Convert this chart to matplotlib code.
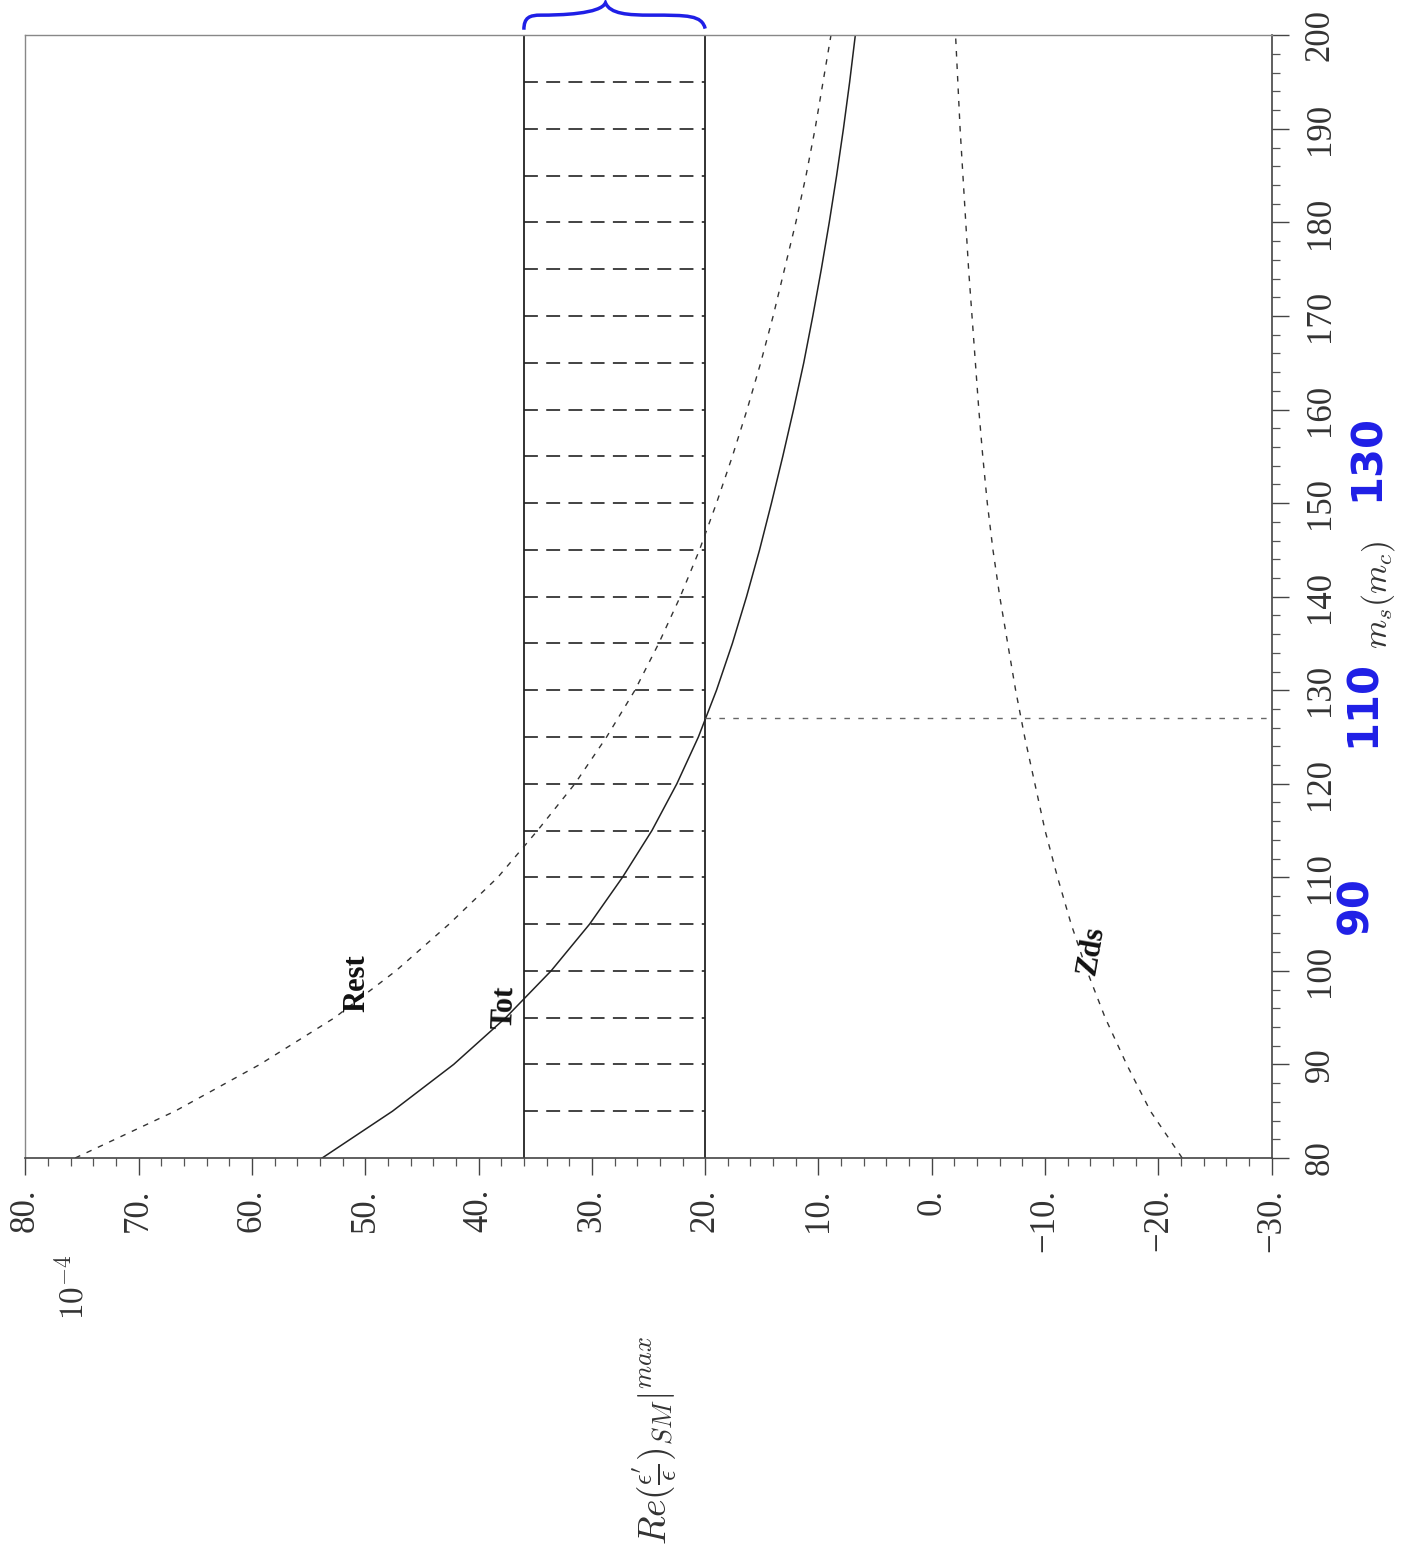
import matplotlib
matplotlib.use("Agg")
import matplotlib.pyplot as plt
from matplotlib.ticker import MultipleLocator, FixedLocator, FixedFormatter
from matplotlib.path import Path
from matplotlib.patches import PathPatch
import matplotlib.transforms as mtransforms

plt.rcParams['font.family'] = ['Liberation Serif', 'DejaVu Serif']
plt.rcParams['mathtext.fontset'] = 'cm'
plt.rcParams['lines.scale_dashes'] = False

# ---------------- data ----------------
ms = [80, 85, 90, 95, 100, 105, 110, 115, 120, 125, 130, 135, 140,
      145, 150, 155, 160, 165, 170, 175, 180, 185, 190, 195, 200]
rest = [75.6, 66.8, 59.3, 52.7, 47.3, 42.6, 38.3, 34.8, 31.5, 28.7, 26.2, 24.1, 22.2,
        20.5, 19.0, 17.6, 16.3, 15.1, 14.0, 13.0, 12.0, 11.1, 10.3, 9.6, 8.9]
tot = [53.8, 47.6, 42.2, 37.6, 33.6, 30.2, 27.3, 24.7, 22.5, 20.6, 19.0, 17.6, 16.35,
       15.2, 14.15, 13.15, 12.2, 11.3, 10.5, 9.75, 9.05, 8.4, 7.8, 7.25, 6.75]
zds = [-22.1, -19.3, -17.2, -15.3, -13.7, -12.3, -11.1, -10.0, -9.1, -8.2, -7.4, -6.7, -6.0,
       -5.4, -4.9, -4.5, -4.15, -3.85, -3.55, -3.25, -3.0, -2.75, -2.5, -2.3, -2.1]

band_lo, band_hi = 20.0, 36.0          # experimental band
band_rows = [85, 90, 95, 100, 105, 110, 115, 120, 125, 130, 135, 140, 145,
             150, 155, 160, 165, 170, 175, 180, 185, 190, 195]
ms_cross = 127.0                       # where Tot meets the band edge

val_ticks = [80, 70, 60, 50, 40, 30, 20, 10, 0, -10, -20, -30]
val_labels = ["80.", "70.", "60.", "50.", "40.", "30.", "20.", "10.", "0.",
              "\u221210.", "\u221220.", "\u221230."]
ms_ticks = [80, 90, 100, 110, 120, 130, 140, 150, 160, 170, 180, 190, 200]
ms_labels = [str(t) for t in ms_ticks]

# ---------------- figure ----------------
fig = plt.figure(figsize=(14.01, 15.64), dpi=100)
ax = fig.add_axes([0.0181, 0.2596, 0.8896, 0.7178])

ax.set_xlim(80, -30)
ax.set_ylim(80, 200)

# band
ax.plot([band_hi, band_hi], [80, 200], color='#222222', lw=1.3)
ax.plot([band_lo, band_lo], [80, 200], color='#222222', lw=1.3)
for r in band_rows:
    ax.plot([band_hi, band_lo], [r, r], color='#222222', lw=1.2,
            dashes=(10, 6))

# curves
ax.plot(rest, ms, color='#333333', lw=1.0, dashes=(4, 5))
ax.plot(tot, ms, color='#222222', lw=1.1)
ax.plot(zds, ms, color='#333333', lw=1.0, dashes=(4, 5))

# crossing line
ax.plot([band_lo, -30], [ms_cross, ms_cross], color='#666666', lw=1.0,
        dashes=(4, 6), clip_on=False)

# curve labels
ax.text(50.7, 98.7, "Rest", rotation=90, fontsize=22, fontweight='bold',
        ha='center', va='center', color='#111111')
ax.text(37.7, 96.1, "Tot", rotation=88, fontsize=22, fontweight='bold',
        ha='center', va='center', color='#111111')
ax.text(-14.1, 102.2, "Zds", rotation=80, fontsize=22, fontweight='bold',
        ha='center', va='center', color='#111111')

# spines & ticks
for side in ['left', 'top']:
    ax.spines[side].set_color('#888888')
    ax.spines[side].set_linewidth(1.0)
for side in ['bottom', 'right']:
    ax.spines[side].set_color('#444444')
    ax.spines[side].set_linewidth(1.2)

ax.xaxis.set_major_locator(FixedLocator(val_ticks))
ax.xaxis.set_major_formatter(FixedFormatter(val_labels))
ax.xaxis.set_minor_locator(MultipleLocator(2))
ax.yaxis.set_major_locator(FixedLocator(ms_ticks))
ax.yaxis.set_major_formatter(FixedFormatter(ms_labels))
ax.yaxis.set_minor_locator(MultipleLocator(2))
ax.yaxis.tick_right()

ax.tick_params(axis='both', which='major', direction='out', length=12,
               width=1.0, color='#444444', labelsize=25, labelcolor='#333333')
ax.tick_params(axis='both', which='minor', direction='out', length=6,
               width=0.9, color='#555555')
ax.tick_params(axis='x', which='major', pad=10, labelrotation=90)
ax.tick_params(axis='y', which='major', pad=11, labelrotation=90)
for lab in ax.get_xticklabels():
    lab.set_va('top')
    lab.set_ha('center')
for lab in ax.get_yticklabels():
    lab.set_va('center')
    lab.set_ha('left')

# axis texts
fig.text(0.0521, 0.1771, r"$10^{-4}$", rotation=90, fontsize=24,
         ha='center', va='center', color='#333333')
fig.text(0.4675, 0.0793, r"$Re(\frac{\epsilon^{\prime}}{\epsilon})_{SM}|^{max}$",
         rotation=90, fontsize=27, ha='center', va='center', color='#333333')
fig.text(0.9836, 0.6196, r"$m_s(m_c)$", rotation=90, fontsize=24,
         ha='center', va='center', color='#333333')

# handwritten blue numbers
blue = '#1f1fe6'
for txt, fx, fy in [("90", 0.9672, 0.4214), ("110", 0.9729, 0.5505),
                    ("130", 0.9757, 0.7078)]:
    fig.text(fx, fy, txt, rotation=90, fontsize=30, fontweight='bold',
             family='DejaVu Sans', color=blue, ha='center', va='center')

# blue brace above the band
trans = mtransforms.blended_transform_factory(ax.transData, ax.transAxes)
peak = 0.5 * (band_hi + band_lo) + 0.8
verts = [(band_hi, 1.005),
         (band_hi, 1.016), (band_hi - 0.5, 1.018), (band_hi - 1.5, 1.018),
         (peak + 4.0, 1.018), (peak + 0.4, 1.019), (peak, 1.029),
         (peak - 0.4, 1.019), (peak - 2.0, 1.018), (peak - 4.0, 1.018),
         (band_lo + 1.5, 1.018), (band_lo + 0.3, 1.018), (band_lo, 1.006)]
codes = [Path.MOVETO] + [Path.CURVE4] * 12
brace = PathPatch(Path(verts, codes), transform=trans, fill=False,
                  edgecolor=blue, lw=2.5, clip_on=False)
ax.add_patch(brace)

fig.savefig("out.png", dpi=100)
